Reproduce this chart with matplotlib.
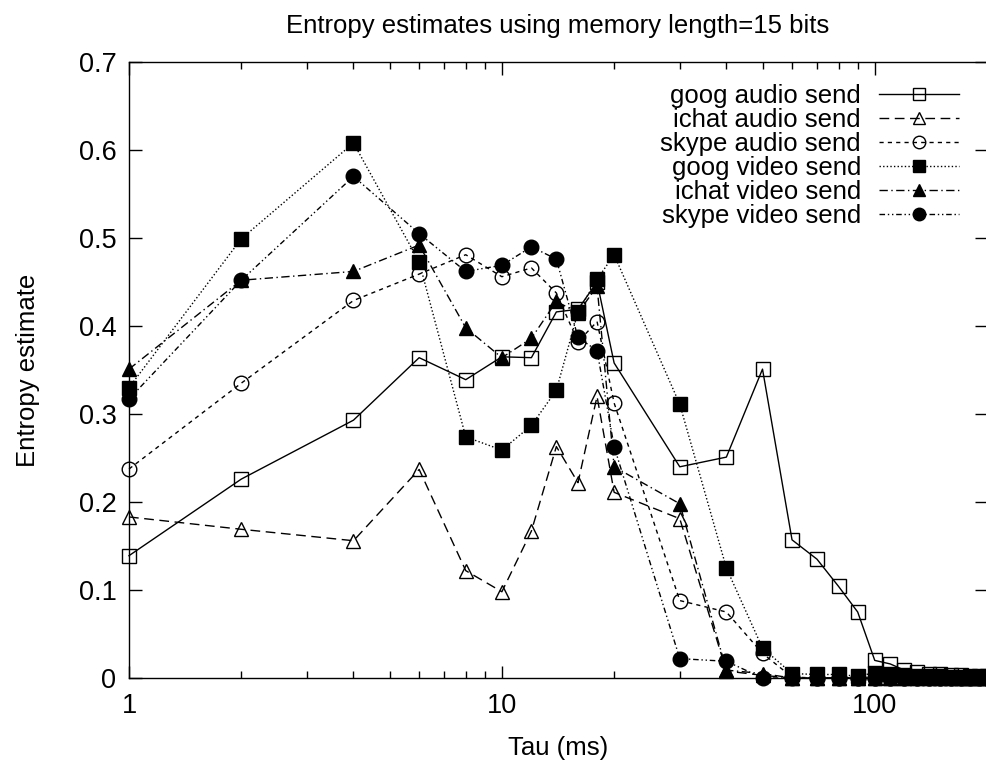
import matplotlib
matplotlib.use("Agg")
import matplotlib.pyplot as plt
from matplotlib.ticker import LogLocator, NullFormatter, FixedLocator, FixedFormatter

plt.rcParams['font.family'] = ['Liberation Sans', 'DejaVu Sans']

taus = [1, 2, 4, 6, 8, 10, 12, 14, 16, 18, 20, 30, 40, 50, 60, 70, 80, 90, 100,
        110, 120, 130, 140, 150, 160, 170, 180, 190, 200]

goog_audio = [0.139, 0.226, 0.293, 0.364, 0.339, 0.365, 0.364, 0.416, 0.419, 0.450,
              0.358, 0.240, 0.251, 0.351, 0.157, 0.135, 0.104, 0.075, 0.020, 0.016,
              0.009, 0.007, 0.005, 0.004, 0.003, 0.003, 0.002, 0.002, 0.002]
ichat_audio = [0.183, 0.169, 0.156, 0.237, 0.122, 0.098, 0.167, 0.263, 0.222, 0.320,
               0.211, 0.181, 0.008, 0.003, 0.0, 0.0, 0.0, 0.0, 0.0, 0.0,
               0.0, 0.0, 0.0, 0.0, 0.0, 0.0, 0.0, 0.0, 0.0]
skype_audio = [0.2375, 0.335, 0.429, 0.459, 0.481, 0.456, 0.466, 0.4375, 0.382, 0.405,
               0.3125, 0.088, 0.075, 0.028, 0.001, 0.0, 0.0, 0.0, 0.0, 0.0,
               0.0, 0.0, 0.0, 0.0, 0.0, 0.0, 0.0, 0.0, 0.0]
goog_video = [0.330, 0.499, 0.608, 0.473, 0.274, 0.259, 0.287, 0.327, 0.416, 0.453,
              0.481, 0.311, 0.125, 0.034, 0.005, 0.004, 0.004, 0.002, 0.006, 0.005,
              0.003, 0.002, 0.002, 0.002, 0.001, 0.001, 0.001, 0.001, 0.001]
ichat_video = [0.351, 0.452, 0.462, 0.492, 0.398, 0.364, 0.386, 0.428, 0.415, 0.445,
               0.240, 0.198, 0.009, 0.005, 0.0, 0.0, 0.0, 0.0, 0.0, 0.0,
               0.0, 0.0, 0.0, 0.0, 0.0, 0.0, 0.0, 0.0, 0.0]
skype_video = [0.317, 0.452, 0.570, 0.505, 0.462, 0.469, 0.490, 0.476, 0.387, 0.372,
               0.263, 0.022, 0.019, 0.0, 0.0, 0.0, 0.0, 0.0, 0.0, 0.0,
               0.0, 0.0, 0.0, 0.0, 0.0, 0.0, 0.0, 0.0, 0.0]

labels = ["goog audio send", "ichat audio send", "skype audio send",
          "goog video send", "ichat video send", "skype video send"]
series = [goog_audio, ichat_audio, skype_audio, goog_video, ichat_video, skype_video]
styles = [
    dict(ls='-', marker='s', mfc='none'),
    dict(ls=(0, (7, 4)), marker='^', mfc='none'),
    dict(ls=(0, (3, 3)), marker='o', mfc='none'),
    dict(ls=(0, (1, 1.6)), marker='s', mfc='black'),
    dict(ls=(0, (6, 2.5, 1, 2.5)), marker='^', mfc='black'),
    dict(ls=(0, (4, 2, 1, 2, 1, 2)), marker='o', mfc='black'),
]

fig = plt.figure(figsize=(9.86, 7.61), dpi=100)
ax = fig.add_axes([129 / 986, 83 / 761, 858 / 986, 616 / 761])

for y, lab, st in zip(series, labels, styles):
    ax.plot(taus, y, color='black', lw=1.0, ls=st['ls'], marker=st['marker'],
            mfc=st['mfc'], mec='black', mew=1.0, ms=10.5, label=lab, clip_on=False)

ax.set_xscale('log')
ax.set_xlim(1, 200)
ax.set_ylim(0, 0.7)
ax.xaxis.set_major_locator(FixedLocator([1, 10, 100]))
ax.xaxis.set_major_formatter(FixedFormatter(['1', '10', '100']))
ax.xaxis.set_minor_locator(LogLocator(base=10, subs=range(2, 10), numticks=20))
ax.xaxis.set_minor_formatter(NullFormatter())
ax.set_yticks([0, 0.1, 0.2, 0.3, 0.4, 0.5, 0.6, 0.7])
ax.set_yticklabels(['0', '0.1', '0.2', '0.3', '0.4', '0.5', '0.6', '0.7'])

ax.tick_params(which='both', direction='in', top=True, right=True, labelsize=19.5)
ax.tick_params(which='major', length=9, width=1)
ax.tick_params(which='minor', length=5, width=1)
ax.tick_params(axis='x', pad=11)
ax.tick_params(axis='y', pad=9)
for sp in ax.spines.values():
    sp.set_linewidth(1.0)

ax.set_xlabel('Tau (ms)', fontsize=18.5, labelpad=12)
ax.set_ylabel('Entropy estimate', fontsize=18.5, labelpad=28)
ax.set_title('Entropy estimates using memory length=15 bits', fontsize=18.5, pad=21)

leg = ax.legend(loc='upper right', bbox_to_anchor=(0.985, 0.99), frameon=False,
                markerfirst=False, fontsize=18.5, handlelength=3.1, handletextpad=0.7,
                labelspacing=0.0, borderaxespad=0.2)
for h in leg.legend_handles:
    h.set_markersize(9)

fig.savefig('out.png', dpi=100)
